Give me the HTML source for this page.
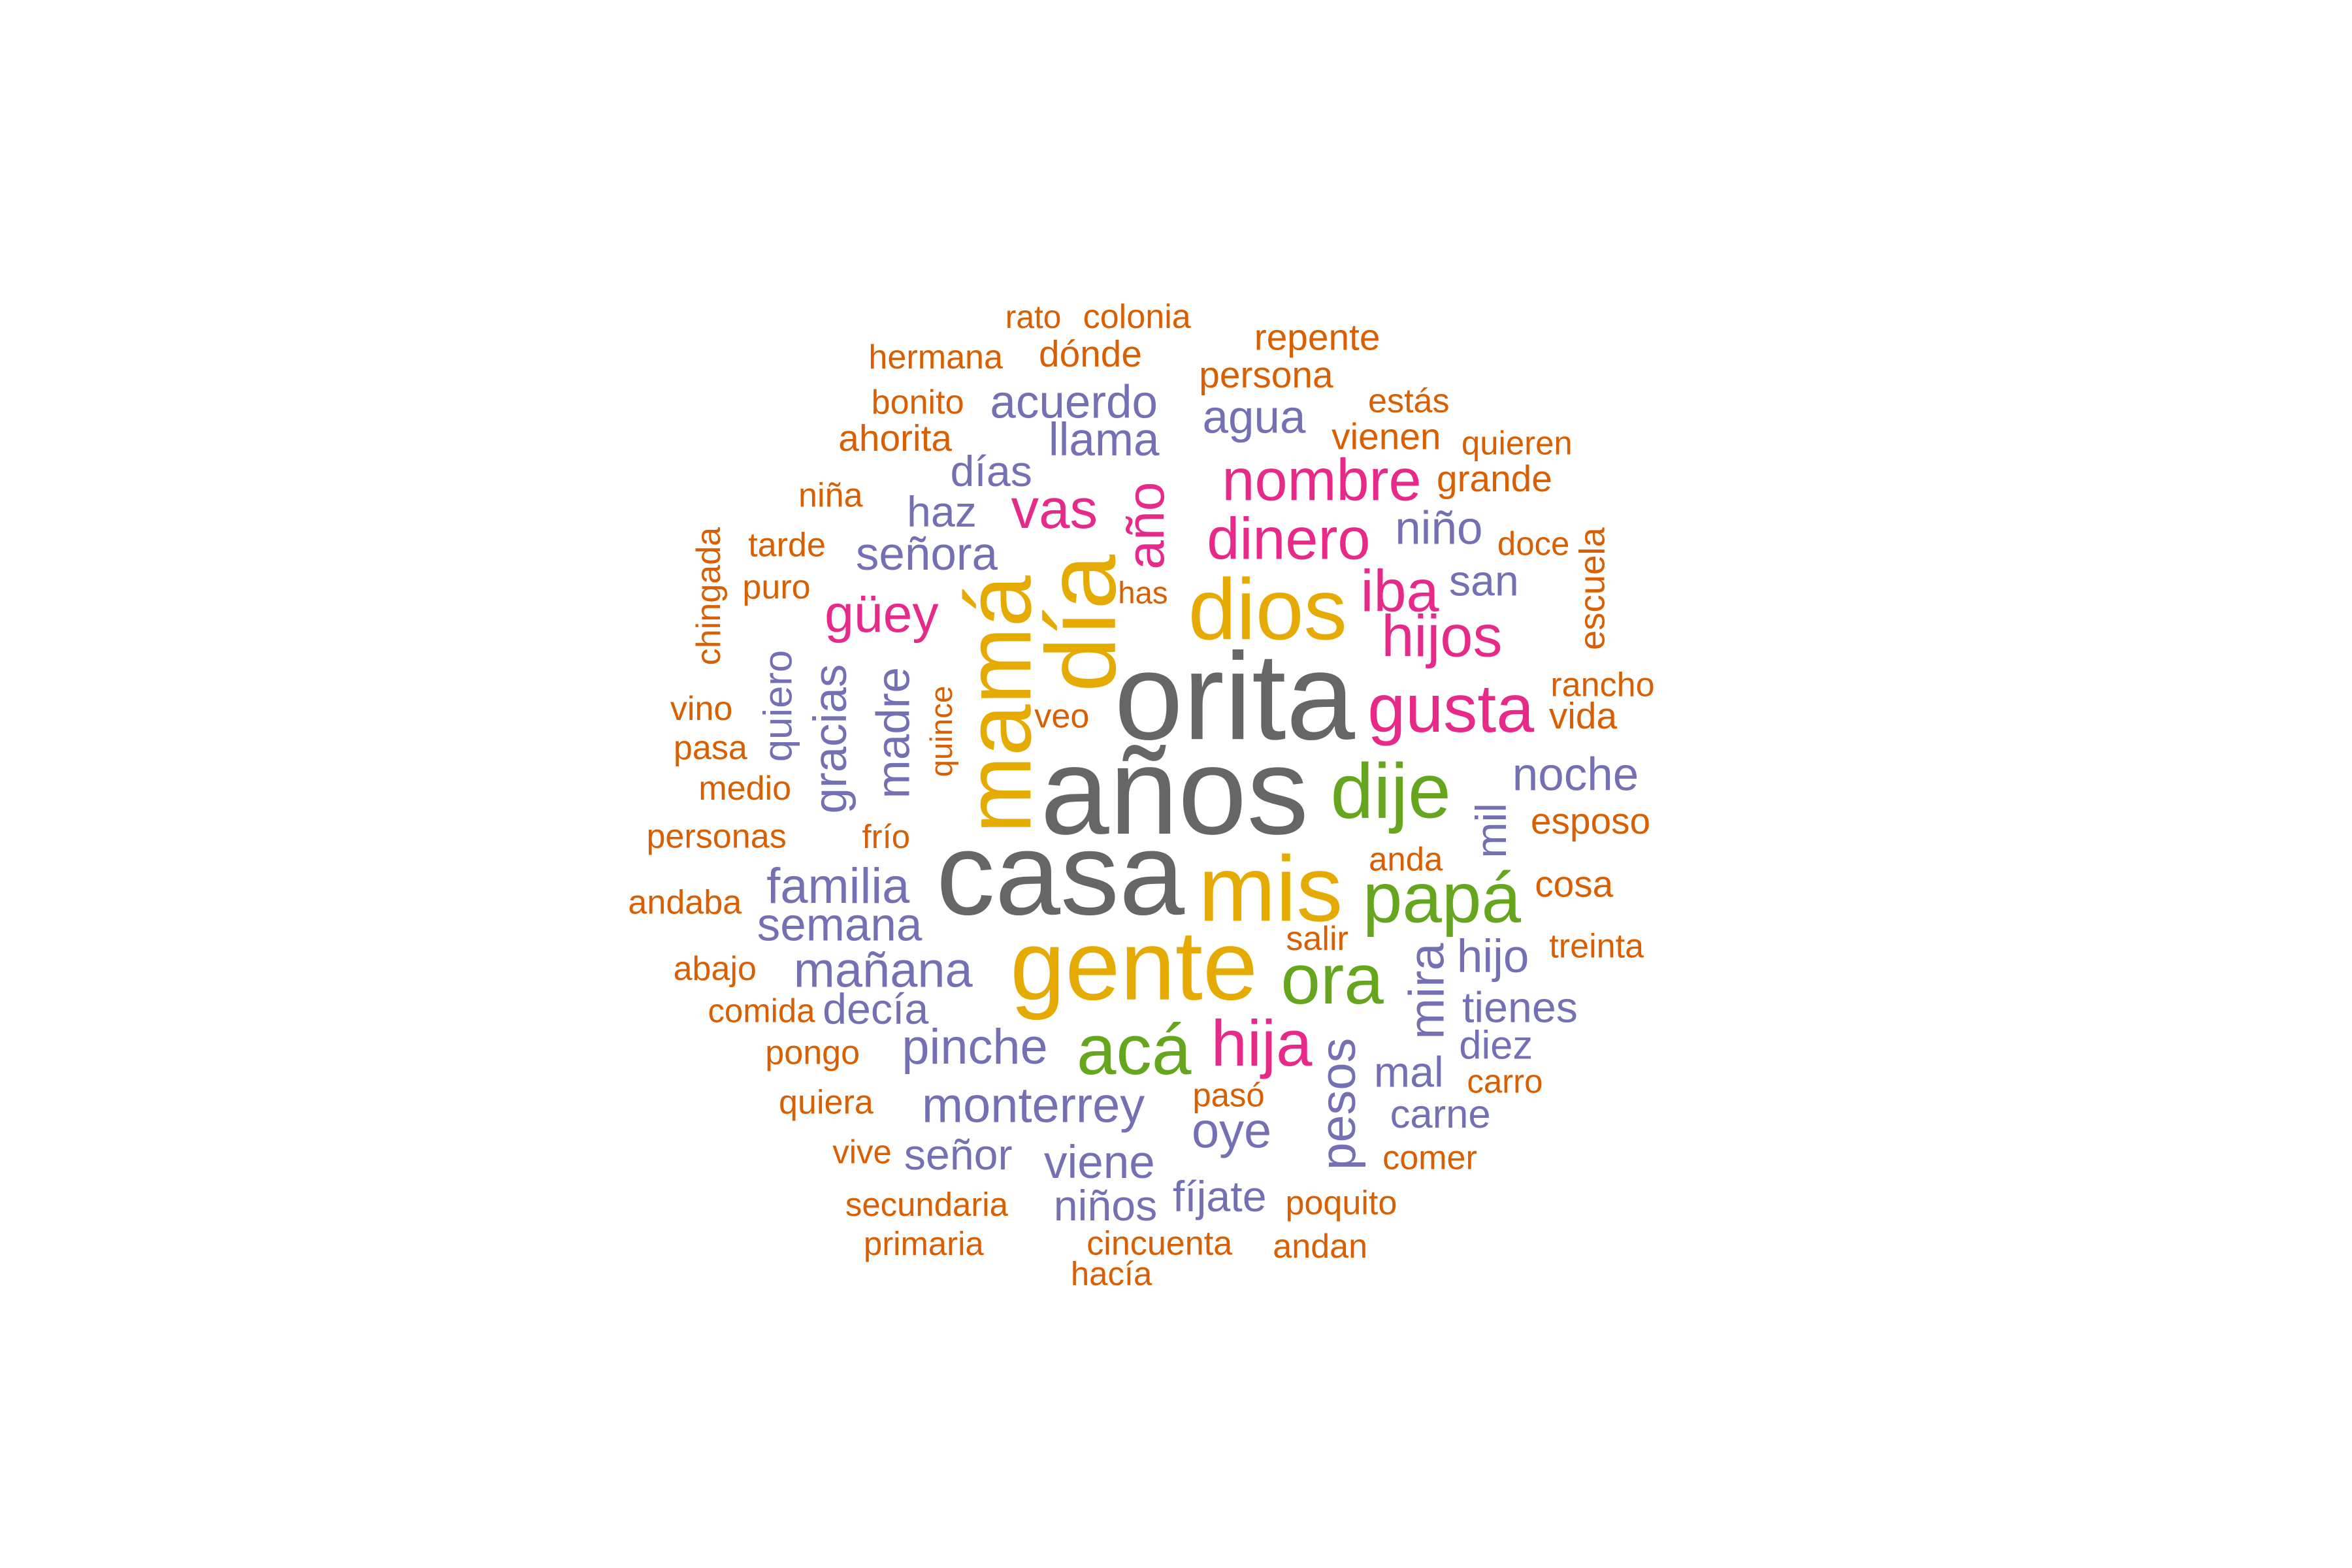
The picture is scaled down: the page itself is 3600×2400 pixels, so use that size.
<!DOCTYPE html>
<html><head><meta charset="utf-8"><style>
html,body{margin:0;padding:0;background:#fff;width:3600px;height:2400px;overflow:hidden}
svg text{font-family:"Liberation Sans",Arial,sans-serif}
</style></head><body>
<svg id="cloud" width="3600" height="2400" viewBox="0 0 3600 2400" xmlns="http://www.w3.org/2000/svg">
<rect width="3600" height="2400" fill="#fff"/>
</svg>
<script>
const words = ["orita","años","casa","gente","mis","dios","día","mamá","dije","papá","ora","acá","hija","gusta","hijos","iba","dinero","nombre","vas","año","güey",
"acuerdo","llama","agua","días","haz","señora","niño","san","noche","familia","semana","mañana","decía","pinche","monterrey","señor","viene","niños","oye","fíjate","hijo","tienes","diez","mal","carne","pesos","mira","mil","madre","gracias","quiero",
"rato","colonia","repente","hermana","dónde","persona","bonito","estás","ahorita","vienen","quieren","grande","niña","doce","tarde","puro","has","chingada","escuela","rancho","vida","vino","veo","pasa","quince","medio","esposo","personas","frío","anda","cosa","andaba","salir","treinta","abajo","comida","pongo","carro","pasó","quiera","comer","vive","poquito","secundaria","primaria","cincuenta","andan","hacía"];
const freq = [80,80,76,64,60,56,64,60,50,46,46,46,42,44,38,38,38,38,36,34,34,
30,30,30,28,28,30,30,28,30,32,30,32,28,32,32,28,30,28,32,28,30,28,26,28,26,32,32,28,30,30,26,
21,22,24,22,24,24,22,22,24,24,21.5,24,22,21.5,22,22,20,22,23,22,24,22,22,22,20,22,24,22,21.5,21.5,24,22,22,22,22,21.5,22,21.5,21.5,22,22,21.5,22,21.5,21.5,22,22,21.5];
const group = [0,0,0,1,1,1,1,1,2,2,2,2,3,3,3,3,3,3,3,3,3,
4,4,4,4,4,4,4,4,4,4,4,4,4,4,4,4,4,4,4,4,4,4,4,4,4,4,4,4,4,4,4,
5,5,5,5,5,5,5,5,5,5,5,5,5,5,5,5,5,5,5,5,5,5,5,5,5,5,5,5,5,5,5,5,5,5,5,5,5,5,5,5,5,5,5,5,5,5,5,5];
const vertical = ["día","mamá","año","pesos","mira","mil","madre","gracias","quiero","chingada","escuela","quince"];
const colors = ["#666666","#E6AB02","#66A61E","#E7298A","#7570B3","#D95F02"];
// layout positions (reference display units) per word
const posX = [822,782,706,755,846,844,720,665,926,960,887,755,840,966,960,932,858,880,702,763,587,
715,735,835,660,627,617,958,988,1049,558,559,588,583,649,688,638,732,736,820,812,994,1012,996,938,959,891,950,993,595,553,518,
688,757,877,623,726,843,611,938,596,923,1010,995,553,1021,524,517,761,472,1060,1067,1054,467,707,473,627,496,1059,477,590,936,1048,456,877,1063,476,507,541,1002,818,550,952,574,893,617,615,772,879,740];
const posY = [462,525,580,641,590,404,413,467,525,596,650,697,693,470,422,392,357,318,337,348,407,
266,291,276,312,339,367,350,385,514,588,614,644,670,695,734,767,772,801,751,795,635,669,694,712,740,733,658,551,486,490,468,
209,209,223,236,234,248,266,265,290,289,293,317,328,360,361,389,393,395,390,454,475,470,475,496,485,523,545,555,555,570,587,599,623,628,643,671,699,718,727,732,769,765,799,800,826,826,828,846];
const SCALE = 3600/1566;
const YOFF = 2;
const svg = document.getElementById('cloud');
const NS = "http://www.w3.org/2000/svg";
words.forEach((w,i)=>{
  const t = document.createElementNS(NS,'text');
  const x = posX[i]*SCALE, y = (posY[i]+YOFF)*SCALE;
  const fs = freq[i]*SCALE*1.03;
  const rot = vertical.includes(w) ? ' rotate(-90)' : '';
  t.setAttribute('transform', `translate(${x.toFixed(1)},${y.toFixed(1)})${rot}`);
  t.setAttribute('text-anchor','middle');
  t.setAttribute('dominant-baseline','central');
  t.setAttribute('font-size', fs.toFixed(1));
  t.setAttribute('fill', colors[group[i]]);
  
  
  t.textContent = w;
  svg.appendChild(t);
});
</script>
</body></html>
